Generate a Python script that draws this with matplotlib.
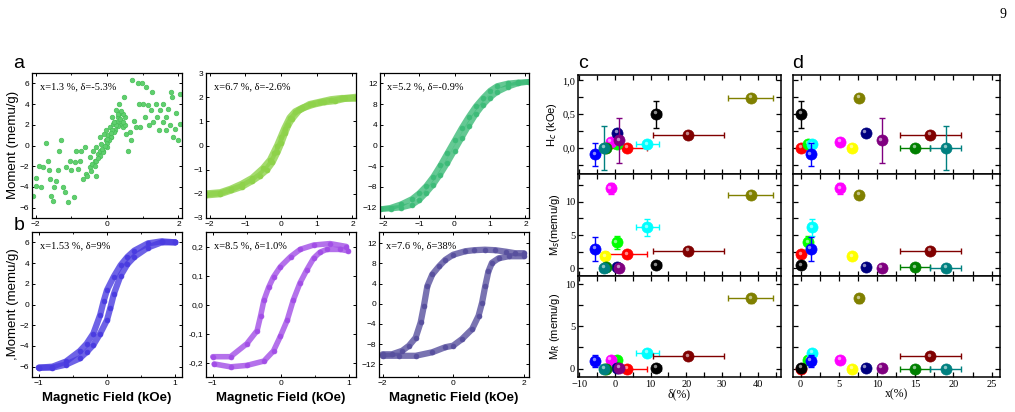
import numpy as np
import matplotlib.pyplot as plt
from matplotlib import transforms
from matplotlib.ticker import FuncFormatter, MultipleLocator

plt.rcParams['xtick.direction'] = 'in'
plt.rcParams['ytick.direction'] = 'in'
plt.rcParams['xtick.top'] = True
plt.rcParams['ytick.right'] = True
plt.rcParams['font.family'] = ['Liberation Sans', 'DejaVu Sans']

# ---------------- hysteresis loops (panels a, b) ----------------
# a1: x=1.3 %, noisy scatter
a1_H = [-2.07, -2.0, -1.98, -1.9, -1.84, -1.79, -1.7, -1.65, -1.62, -1.6, -1.56, -1.51, -1.48,
        -1.42, -1.37, -1.34, -1.28, -1.23, -1.18, -1.14, -1.09, -1.04, -1.0, -0.93, -0.9, -0.86,
        -0.81, -0.76, -0.72, -0.67, -0.62, -0.6, -0.56, -0.48, -0.47, -0.41, -0.39, -0.34, -0.32,
        -0.3, -0.25, -0.2, -0.19, -0.16, -0.11, -0.09, -0.04, -0.02, 0.0, 0.03, 0.07, 0.12, 0.15,
        0.17, 0.21, 0.24, 0.26, 0.31, 0.34, 0.35, 0.4, 0.45, 0.47, 0.49, 0.52, 0.59, 0.63, 0.68,
        0.71, 0.75, 0.82, 0.87, 0.89, 0.91, 0.99, 1.0, 1.05, 1.1, 1.15, 1.17, 1.24, 1.27, 1.3,
        1.36, 1.4, 1.45, 1.49, 1.57, 1.58, 1.64, 1.66, 1.7, 1.75, 1.8, 1.83, 1.85, 1.89, 1.94,
        1.98, 2.03, 2.03, -0.3, -0.2, -0.1, 0.0, 0.1, 0.2, 0.3, 0.4, -0.25, -0.15, 0.05, 0.15,
        0.25, 0.35, 0.45, -0.35, -0.05, 0.0, 0.1, 0.2, 0.3, 0.4, 0.5, -0.45, 0.45]
a1_M = [-4.9, -3.9, -3.1, -1.95, -4.05, -2.1, 0.2, -1.45, -2.4, -3.25, -4.85, -5.35, -4.05,
        -3.45, -2.4, -0.5, 0.5, -4.05, -4.5, -2.1, -5.5, -1.45, -2.4, -5.0, -1.6, -0.5,
        -2.25, -1.45, -0.5, -3.25, -0.15, -2.75, -2.9, -2.1, -1.15, -1.8, -0.5, -1.45, -2.9,
        -0.15, -0.8, -0.5, 0.8, 0.15, -0.5, 1.1, 0.5, 1.45, -0.15, 1.0, 1.8, 0.8, 2.75,
        2.1, 1.45, 3.4, 2.25, 2.75, 4.05, 3.1, 2.1, 1.8, 4.7, 2.75, 1.1, -0.5, 1.3, 0.5,
        6.3, 2.4, 1.8, 6.0, 4.05, 1.8, 6.0, 4.05, 2.75, 5.65, 3.9, 1.95, 3.4, 5.15, 2.25,
        4.05, 2.75, 1.45, 3.4, 4.05, 2.25, 1.45, 2.75, 3.55, 1.95, 5.15, 4.7, 0.8, 1.6, 3.1,
        0.5, 5.0, 2.1, -1.5, -1.0, -0.6, 0.2, 0.8, 1.3, 1.9, 2.4, -1.2, -0.3, 0.5, 1.5,
        2.0, 2.6, 3.0, -2.0, 0.0, 0.6, 1.2, 2.3, 3.0, 3.3, 2.0, -2.5, 2.3]

# a2: x=6.7 %
a2_H_down = [2.1, 1.8, 1.5, 1.2, 0.9, 0.6, 0.4, 0.25, 0.1, 0.0, -0.1, -0.2, -0.3, -0.5, -0.8, -1.1, -1.4, -1.7, -2.1]
a2_M_down = [2.0, 1.95, 1.85, 1.8, 1.7, 1.55, 1.4, 1.15, 0.7, 0.35, 0.0, -0.3, -0.6, -0.95, -1.35, -1.6, -1.8, -1.95, -2.0]
a2_H_up = [-2.1, -1.7, -1.4, -1.1, -0.8, -0.6, -0.4, -0.25, -0.1, 0.0, 0.1, 0.2, 0.3, 0.5, 0.8, 1.1, 1.4, 1.7, 2.1]
a2_M_up = [-2.05, -2.0, -1.85, -1.7, -1.45, -1.25, -1.0, -0.7, -0.25, 0.1, 0.5, 0.85, 1.1, 1.45, 1.7, 1.8, 1.9, 1.95, 1.95]

# a3: x=5.2 %
a3_H_down = [2.1, 1.8, 1.5, 1.2, 1.0, 0.8, 0.6, 0.4, 0.2, 0.0, -0.2, -0.4, -0.6, -0.8, -1.0, -1.2, -1.5, -1.8, -2.1]
a3_M_down = [12.3, 12.2, 12.0, 11.5, 10.6, 9.2, 7.6, 5.6, 3.4, 1.0, -1.4, -3.8, -6.0, -7.8, -9.2, -10.3, -11.3, -12.0, -12.3]
a3_H_up = [-2.1, -1.8, -1.5, -1.2, -1.0, -0.8, -0.6, -0.4, -0.2, 0.0, 0.2, 0.4, 0.6, 0.8, 1.0, 1.2, 1.5, 1.8, 2.1]
a3_M_up = [-12.3, -12.2, -12.0, -11.5, -10.6, -9.2, -7.6, -5.6, -3.4, -1.0, 1.4, 3.8, 6.0, 7.8, 9.2, 10.3, 11.3, 12.0, 12.3]

# b1: x=1.53 %
b1_H_down = [1.0, 0.8, 0.6, 0.4, 0.3, 0.2, 0.1, 0.0, -0.05, -0.1, -0.2, -0.3, -0.4, -0.6, -0.8, -1.0]
b1_M_down = [6.0, 6.1, 5.9, 5.2, 4.6, 3.8, 2.7, 1.4, 0.3, -1.0, -2.8, -3.8, -4.5, -5.5, -6.0, -6.1]
b1_H_up = [-1.0, -0.8, -0.6, -0.4, -0.3, -0.2, -0.1, 0.0, 0.05, 0.1, 0.2, 0.3, 0.4, 0.6, 0.8, 1.0]
b1_M_up = [-6.1, -6.1, -5.8, -5.2, -4.6, -3.9, -2.8, -1.5, -0.3, 1.0, 2.8, 3.9, 4.6, 5.5, 6.0, 6.0]

# b2: x=8.5 %
b2_H_down = [0.96, 0.72, 0.48, 0.28, 0.14, -0.01, -0.11, -0.18, -0.25, -0.30, -0.35, -0.5, -0.74, -1.0]
b2_M_down = [0.2, 0.21, 0.205, 0.19, 0.165, 0.13, 0.095, 0.06, 0.015, -0.04, -0.09, -0.135, -0.18, -0.18]
b2_H_up = [-0.98, -0.74, -0.5, -0.25, -0.11, -0.01, 0.09, 0.18, 0.28, 0.38, 0.48, 0.57, 0.67, 0.87, 0.98]
b2_M_up = [-0.205, -0.215, -0.21, -0.195, -0.16, -0.11, -0.055, 0.015, 0.075, 0.12, 0.16, 0.18, 0.19, 0.19, 0.185]

# b3: x=7.6 %
b3_H_down = [2.0, 1.76, 1.5, 1.2, 0.9, 0.6, 0.35, 0.0, -0.22, -0.40, -0.59, -0.73, -0.83, -0.92, -1.06, -1.25, -1.44, -1.73, -2.0]
b3_M_down = [10.0, 10.0, 10.3, 10.6, 10.7, 10.6, 10.4, 9.7, 8.7, 7.4, 5.8, 3.5, -0.5, -3.7, -6.7, -8.3, -9.3, -10.0, -10.0]
b3_H_up = [-2.0, -1.54, -1.06, -0.59, -0.22, 0.0, 0.25, 0.54, 0.72, 0.82, 0.91, 1.0, 1.1, 1.29, 1.57, 2.0]
b3_M_up = [-10.3, -10.3, -10.3, -9.6, -8.6, -8.3, -7.0, -5.0, -2.4, 0.2, 3.5, 6.4, 8.1, 9.0, 9.4, 9.4]

# ---------------- summary data (panels c, d) ----------------
colors = ['red', '#00ff00', 'cyan', 'blue', 'black', 'magenta', 'yellow',
          'olive', 'navy', 'purple', 'maroon', 'green', 'teal']
x_pct = [0, 1.0, 1.5, 1.3, 0, 5.2, 6.7, 7.6, 8.5, 10.6, 17.0, 15.0, 19.0]
x_err = [0, 0, 0, 0, 0, 0, 0, 0, 0, 0.4, 4.0, 2.0, 2.0]
delta = [3.5, 0.5, 9.1, -5.5, 11.6, -1.2, -2.8, 38.0, 0.7, 1.2, 20.6, -2.4, -3.1]
delta_err = [5.6, 0.8, 3.2, 0, 1.2, 0, 0, 6.2, 0, 0, 10.0, 0, 1.0]
Hc = [0.0, 0.06, 0.05, -0.10, 0.50, 0.09, 0.0, 0.74, 0.22, 0.11, 0.19, 0.0, 0.0]
Hc_err = [0, 0, 0, 0.17, 0.2, 0, 0, 0, 0, 0.33, 0, 0, 0.33]
Ms = [2.1, 3.9, 6.15, 2.95, 0.45, 12.0, 1.8, 11.0, 0.2, 0.05, 2.6, 0.15, 0.1]
Ms_err = [0, 1.0, 1.3, 1.8, 0, 0.8, 0, 0, 0, 0, 0, 0, 0]
MR = [0.0, 1.0, 1.85, 0.88, 0.12, 1.07, 0.0, 8.3, 0.1, 0.05, 1.46, 0.0, 0.0]
MR_err = [0, 0, 0.3, 0.7, 0, 0, 0, 0.5, 0, 0, 0, 0, 0]

W, H = 1015, 412
fig = plt.figure(figsize=(W / 100, H / 100), dpi=100)


def rect(l, r, t, b):
    return [l / W, 1 - b / H, (r - l) / W, (b - t) / H]


comma = FuncFormatter(lambda v, p: f'{v:.1f}'.replace('.', ','))


def loop_ax(pos, xlim, ylim, xt, ymaj, label):
    ax = fig.add_axes(pos)
    ax.set_xlim(*xlim)
    ax.set_ylim(*ylim)
    ax.set_xticks(xt)
    ax.xaxis.set_minor_locator(MultipleLocator(0.5 if xlim[1] < 1.5 else 1))
    ax.yaxis.set_major_locator(MultipleLocator(ymaj))
    ax.tick_params(labelsize=6, length=2.5, width=0.7, pad=2)
    ax.tick_params(which='minor', length=1.5, width=0.6)
    for s in ax.spines.values():
        s.set_linewidth(0.9)
    ax.text(0.05, 0.89, label, transform=ax.transAxes, fontsize=7.5,
            family=['Liberation Serif', 'DejaVu Serif'])
    return ax


def band(ax, hs, ms, c, lw):
    ax.plot(hs, ms, '-', color=c, lw=lw, alpha=0.8, solid_capstyle='round')
    ax.plot(hs, ms, 'o', color=c, ms=3.5, mec=c, mew=0.5)


ya, yb = (73, 218), (232, 377)
ax1 = loop_ax(rect(32, 182, *ya), (-2.1, 2.1), (-7, 7), [-2, 0, 2], 2, 'x=1.3 %, δ=-5.3%')
ax1.plot(a1_H, a1_M, 'o', color='#5fcf6e', ms=3.3, mec='#48bf58', mew=0.5)
ax2 = loop_ax(rect(206, 356, *ya), (-2.1, 2.1), (-3, 3), [-2, -1, 0, 1, 2], 1, 'x=6.7 %, δ=-2.6%')
band(ax2, a2_H_down, a2_M_down, '#8ed24a', 5)
band(ax2, a2_H_up, a2_M_up, '#8ed24a', 5)
ax3 = loop_ax(rect(380, 529, *ya), (-2.1, 2.1), (-14, 14), [-2, -1, 0, 1, 2], 4, 'x=5.2 %, δ=-0.9%')
band(ax3, a3_H_down, a3_M_down, '#3dbb78', 4)
band(ax3, a3_H_up, a3_M_up, '#3dbb78', 4)

bx1 = loop_ax(rect(32, 182, *yb), (-1.1, 1.1), (-7, 7), [-1, 0, 1], 2, 'x=1.53 %, δ=9%')
band(bx1, b1_H_down, b1_M_down, '#4a3ce0', 4.5)
band(bx1, b1_H_up, b1_M_up, '#4a3ce0', 4.5)
bx2 = loop_ax(rect(206, 356, *yb), (-1.1, 1.1), (-0.25, 0.25), [-1, 0, 1], 0.1, 'x=8.5 %, δ=1.0%')
bx2.yaxis.set_major_formatter(comma)
band(bx2, b2_H_down, b2_M_down, '#a24ee6', 4)
band(bx2, b2_H_up, b2_M_up, '#a24ee6', 4)
bx3 = loop_ax(rect(379, 529, *yb), (-2.1, 2.15), (-14.5, 14.2), [-2, 0, 2], 4, 'x=7.6 %, δ=38%')
band(bx3, b3_H_down, b3_M_down, '#58509e', 4.5)
band(bx3, b3_H_up, b3_M_up, '#58509e', 4.5)

fig.text(13 / W, 1 - 145 / H, 'Moment (memu/g)', rotation=90, va='center', ha='center', fontsize=9.5)
fig.text(13 / W, 1 - 304 / H, ',Moment (memu/g)', rotation=90, va='center', ha='center', fontsize=9.5)
for l, r in [(32, 182), (206, 356), (379, 529)]:
    fig.text((l + r) / 2 / W, 1 - 398 / H, 'Magnetic Field (kOe)', ha='center', va='center',
             fontsize=9.5, fontweight='bold')
fig.text(19 / W, 1 - 64 / H, 'a', fontsize=14, ha='center', va='center')
fig.text(19 / W, 1 - 226 / H, 'b', fontsize=14, ha='center', va='center')
fig.text(583 / W, 1 - 64 / H, 'c', fontsize=14, ha='center', va='center')
fig.text(798 / W, 1 - 64 / H, 'd', fontsize=14, ha='center', va='center')
fig.text(1003 / W, 1 - 15 / H, '9', fontsize=10, ha='center', va='center',
         family=['Liberation Serif', 'DejaVu Serif'])

# ---------------- panels c and d ----------------
serif = ['Liberation Serif', 'DejaVu Serif']
rows = [(75, 174), (174, 276), (276, 377)]
row_y = [Hc, Ms, MR]
row_err = [Hc_err, Ms_err, MR_err]
row_lim = [(-0.39, 1.08), (-1.15, 14.15), (-1.0, 10.95)]
row_ticks = [[0.0, 0.5, 1.0], [0, 5, 10], [0, 5, 10]]
row_minor = [0.25, 2.5, 2.5]
row_lab = ['H$_c$ (kOe)', 'M$_s$(memu/g)', 'M$_R$ (memu/g)']

for col, (l, r, xv, xe, xlim, xmaj, xlab) in enumerate([
        (578, 781, delta, delta_err, (-10.3, 46.5), 10, 'δ(%)'),
        (793, 1000, x_pct, x_err, (-1.0, 26.1), 5, 'x(%)')]):
    for i, (t, b) in enumerate(rows):
        ax = fig.add_axes(rect(l, r, t, b))
        ax.set_xlim(*xlim)
        ax.set_ylim(*row_lim[i])
        ax.xaxis.set_major_locator(MultipleLocator(xmaj))
        ax.xaxis.set_minor_locator(MultipleLocator(xmaj / 2))
        ax.set_yticks(row_ticks[i])
        ax.yaxis.set_minor_locator(MultipleLocator(row_minor[i]))
        ax.tick_params(which='both', length=3.5, width=0.9, labelsize=7.5, pad=2)
        for s in ax.spines.values():
            s.set_linewidth(1.1)
        if i == 0:
            ax.yaxis.set_major_formatter(comma)
        if col == 1:
            ax.tick_params(labelleft=False)
        else:
            ax.set_ylabel(row_lab[i], fontsize=8, labelpad=2)
        if i < 2:
            ax.tick_params(labelbottom=False)
        else:
            ax.set_xlabel(xlab, fontsize=8.5, family=serif, labelpad=0)
        for lab in ax.get_xticklabels() + ax.get_yticklabels():
            lab.set_family(serif)
        hl = transforms.offset_copy(ax.transData, fig=fig, x=-0.8, y=1.2, units='points')
        for k in range(len(colors)):
            c = colors[k]
            ye = row_err[i][k]
            xk = xe[k]
            if ye or xk:
                ax.errorbar(xv[k], row_y[i][k], xerr=xk if xk else None, yerr=ye if ye else None,
                            fmt='none', ecolor=c, elinewidth=1.0, capsize=2, capthick=1.0)
            ax.plot(xv[k], row_y[i][k], 'o', color=c, ms=8, mec=c, mew=0.5)
            ax.plot(xv[k], row_y[i][k], 'o', color='white', ms=2.5, alpha=0.55, mew=0,
                    transform=hl)

fig.savefig('out.png', dpi=100)
